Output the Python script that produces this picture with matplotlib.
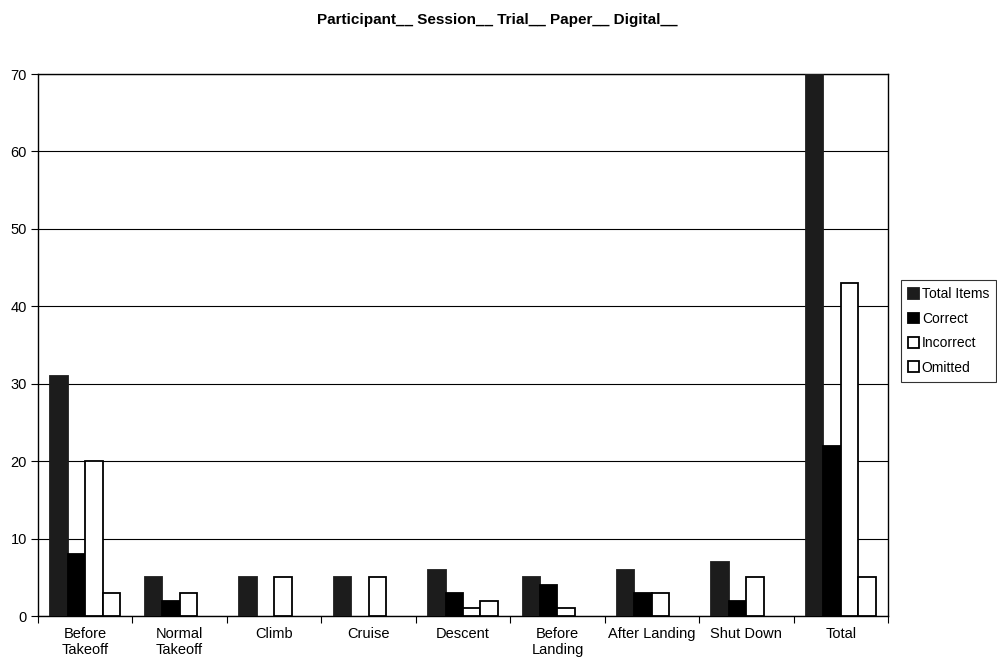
import matplotlib
matplotlib.use("Agg")
import matplotlib.pyplot as plt
import numpy as np

plt.rcParams['font.family'] = ['Liberation Sans', 'DejaVu Sans']

categories = ["Before\nTakeoff", "Normal\nTakeoff", "Climb", "Cruise", "Descent",
              "Before\nLanding", "After Landing", "Shut Down", "Total"]
total_items = [31, 5, 5, 5, 6, 5, 6, 7, 70]
correct = [8, 2, 0, 0, 3, 4, 3, 2, 22]
incorrect = [20, 3, 5, 5, 1, 1, 3, 5, 43]
omitted = [3, 0, 0, 0, 2, 0, 0, 0, 5]
series_names = ["Total Items", "Correct", "Incorrect", "Omitted"]
yticks = [0, 10, 20, 30, 40, 50, 60, 70]

fig = plt.figure(figsize=(9.97, 6.64), dpi=100)
ax = fig.add_axes([38/997, 48/664, 850/997, 542/664])

x = np.arange(len(categories))
w = 0.185
styles = [("#1c1c1c", "#1c1c1c"), ("#000000", "#000000"), ("white", "black"), ("white", "black")]
for i, (vals, name, (fc, ec)) in enumerate(zip([total_items, correct, incorrect, omitted], series_names, styles)):
    lws = [1.3 if v > 0 else 0 for v in vals]
    ax.bar(x + (i - 1.5) * w, vals, width=w, color=fc, edgecolor=ec, linewidth=lws, label=name, zorder=3)

ax.set_xlim(-0.5, len(categories) - 0.5)
ax.set_ylim(0, 70)
ax.set_yticks(yticks)
ax.yaxis.grid(True, color='black', linewidth=0.8, zorder=0)
ax.set_axisbelow(True)

ax.set_xticks(np.arange(-0.5, len(categories), 1.0))
ax.set_xticklabels([])
ax.set_xticks(x, minor=True)
ax.set_xticklabels(categories, minor=True, fontsize=10.5)
ax.tick_params(axis='x', which='minor', length=0, pad=8)
ax.tick_params(axis='x', which='major', length=5, direction='out', color='black')
ax.tick_params(axis='y', length=5, direction='out', labelsize=10.5, pad=3)
for sp in ax.spines.values():
    sp.set_color('black')
    sp.set_linewidth(1.0)

fig.text(497/997, 1 - 20/664, "Participant__ Session__ Trial__ Paper__ Digital__",
         ha='center', va='center', fontsize=11, fontweight='bold')

leg = ax.legend(loc='center left', frameon=True, fancybox=False, edgecolor='black', fontsize=10,
                handlelength=0.8, handleheight=0.8, handletextpad=0.2, borderpad=0.5,
                labelspacing=0.75, borderaxespad=0)
leg.set_bbox_to_anchor((901/997, 1 - 331/664), transform=fig.transFigure)
leg.get_frame().set_linewidth(0.8)

fig.savefig("out.png", dpi=100)
